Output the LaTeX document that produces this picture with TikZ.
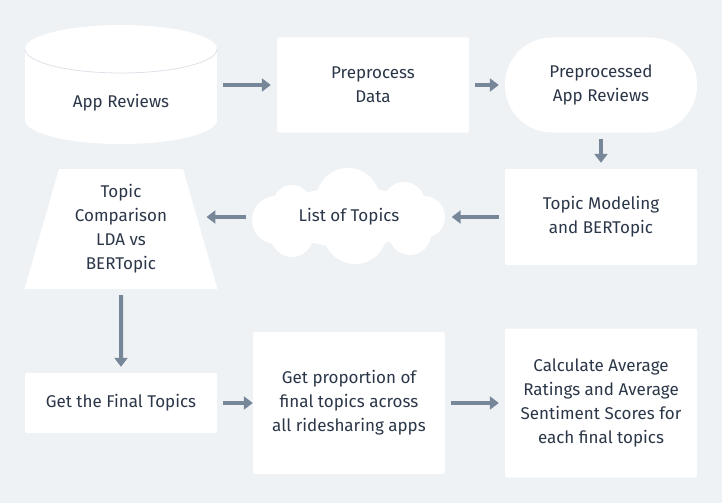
\documentclass[tikz,border=0pt]{standalone}
\usepackage{fontspec}
\setmainfont{Fira Sans}
\usetikzlibrary{arrows.meta,shapes.geometric}
\definecolor{bgcol}{HTML}{EEF2F5}
\definecolor{arrcol}{HTML}{77879A}
\definecolor{txtcol}{HTML}{2B3748}
\definecolor{rimcol}{HTML}{DDE2E8}

\begin{document}
\begin{tikzpicture}[x=1pt, y=-1pt,
    every node/.style={font=\fontsize{17}{24}\selectfont, text=txtcol, align=center},
    box/.style={fill=white, rounded corners=2pt, minimum width=192pt, inner sep=0pt},
    flow/.style={arrcol, line width=4pt, -{Triangle[length=9pt,width=13pt]}, shorten <=6pt, shorten >=6pt}]
    % Background
    \fill[bgcol] (0,0) rectangle (722,503);
    \useasboundingbox (0,0) rectangle (722,503);

    % App Reviews (cylinder)
    \fill[white] (121,120) ellipse [x radius=96pt, y radius=24pt];
    \fill[white] (25,49) rectangle (217,120);
    \fill[white] (121,49) ellipse [x radius=96pt, y radius=24pt];
    \draw[rimcol, line width=0.8pt] (25,49) arc[start angle=180, end angle=360, x radius=96pt, y radius=24pt];
    \node[minimum width=192pt, minimum height=119pt, inner sep=0pt] (rev) at (121,85) {};
    \node (revtxt) at (121,103) {App Reviews};

    % Top row
    \node[box, minimum height=95pt] (prep) at (373,85) {Preprocess\\Data};
    \node[box, rounded corners=47pt, minimum height=95pt] (prepd) at (601,85) {Preprocessed\\App Reviews};

    % Middle row
    \node[box, minimum height=96pt] (tm) at (601,217) {Topic Modeling\\and BERTopic};
    % cloud, built from overlapping puffs
    \fill[white] (349,217) ellipse [x radius=72pt, y radius=30pt];
    \foreach \cx/\cy/\r in {348/200/32, 355/232/32, 276/220/24, 292/204/19, 424/217/21,
                            404/203/21, 410/234/21, 292/236/21} {
        \fill[white] (\cx,\cy) circle [radius=\r pt];
    }
    \node[minimum width=193pt, minimum height=96pt, inner sep=0pt] (lot) at (349,217) {List of Topics};
    \node[trapezium, fill=white, trapezium left angle=74, trapezium right angle=74, trapezium stretches=true,
          minimum width=193pt, minimum height=120pt, inner sep=0pt] (cmp) at (121,229) {Topic\\Comparison\\LDA vs\\BERTopic};

    % Bottom row
    \node[box, minimum height=60pt] (fin) at (121,403) {Get the Final Topics};
    \node[box, minimum height=142pt] (prop) at (349,403) {Get proportion of\\final topics across\\all ridesharing apps};
    \node[box, minimum height=149pt] (calc) at (601,403) {Calculate Average\\Ratings and Average\\Sentiment Scores for\\each final topics};

    % Connectors
    \draw[flow] (rev) -- (prep);
    \draw[flow] (prep) -- (prepd);
    \draw[flow] (prepd) -- (tm);
    \draw[flow] (tm) -- (lot);
    \draw[flow] (lot) -- (cmp.east |- lot);
    \draw[flow] (cmp) -- (fin);
    \draw[flow, shorten >=0pt] (fin) -- (prop);
    \draw[flow] (prop) -- (calc);
\end{tikzpicture}
\end{document}
